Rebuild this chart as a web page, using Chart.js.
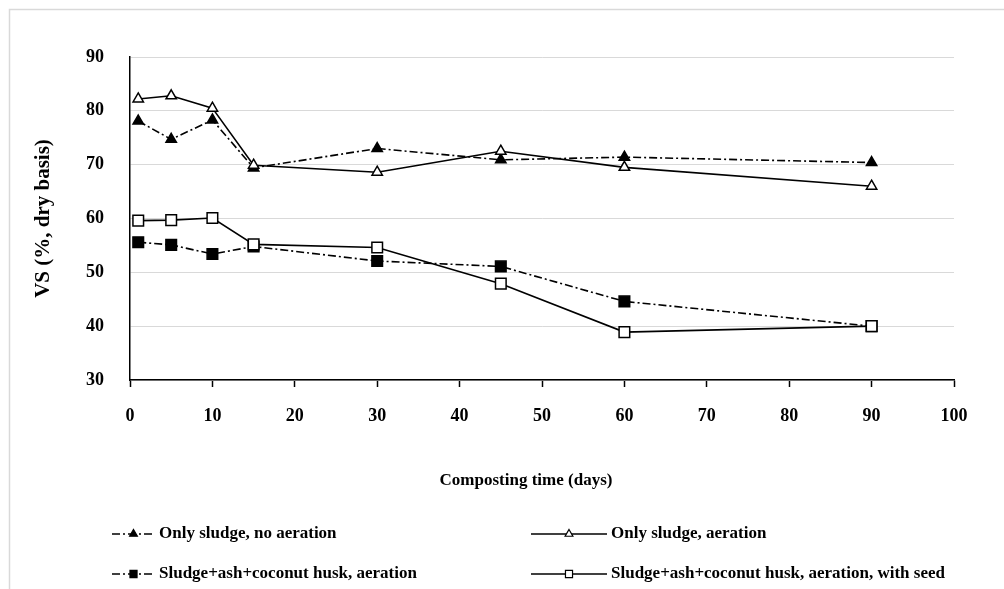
<!DOCTYPE html>
<html>
<head>
<meta charset="utf-8">
<title>VS during composting</title>
<script src="https://cdn.jsdelivr.net/npm/chart.js@4/dist/chart.umd.min.js"></script>
<style>
  html, body { margin: 0; padding: 0; background: #fff; }
  canvas { display: block; }
</style>
</head>
<body>
<canvas id="vs" width="1004" height="589"></canvas>
<script>
// Composting time (days) at each sampling
const days = [1, 5, 10, 15, 30, 45, 60, 90];

// Volatile solids (%, dry basis) per treatment
const onlySludgeNoAeration = [78.1, 74.7, 78.3, 69.4, 73.0, 70.9, 71.4, 70.4];
const onlySludgeAeration = [82.2, 82.8, 80.5, 69.9, 68.6, 72.5, 69.5, 66.0];
const sludgeAshHuskAeration = [55.6, 55.1, 53.4, 54.8, 52.1, 51.1, 44.6, 40.0];
const sludgeAshHuskSeed = [59.6, 59.7, 60.1, 55.2, 54.6, 47.9, 38.9, 40.0];

const seriesNames = [
  'Only sludge, no aeration',
  'Only sludge, aeration',
  'Sludge+ash+coconut husk, aeration',
  'Sludge+ash+coconut husk, aeration, with seed'
];

const xTicks = [0, 10, 20, 30, 40, 50, 60, 70, 80, 90, 100];
const yTicks = [30, 40, 50, 60, 70, 80, 90];
const xTitle = 'Composting time (days)';
const yTitle = 'VS (%, dry basis)';

const FONT = "'Liberation Serif', 'Times New Roman', serif";
const DASH_DOT = [8, 3, 2, 3];

function points(values) {
  return days.map((d, i) => ({ x: d, y: values[i] }));
}

function series(label, values, shape, filled, dashed, order) {
  return {
    label,
    data: points(values),
    borderColor: '#000',
    borderWidth: 1.6,
    borderDash: dashed ? DASH_DOT : [],
    pointStyle: shape,
    pointRadius: shape === 'triangle' ? 6 : 7.5,
    pointBackgroundColor: filled ? '#000' : '#fff',
    pointBorderColor: '#000',
    pointBorderWidth: 1.5,
    tension: 0,
    fill: false,
    order
  };
}

const datasets = [
  series(seriesNames[0], onlySludgeNoAeration, 'triangle', true, true, 1),
  series(seriesNames[1], onlySludgeAeration, 'triangle', false, false, 0),
  series(seriesNames[2], sludgeAshHuskAeration, 'rect', true, true, 1),
  series(seriesNames[3], sludgeAshHuskSeed, 'rect', false, false, 0)
];

// Light frame around the figure
const framePlugin = {
  id: 'frame',
  beforeDraw(chart) {
    const ctx = chart.ctx;
    ctx.save();
    ctx.strokeStyle = '#d9d9d9';
    ctx.lineWidth = 1.5;
    ctx.strokeRect(9.5, 9.5, 2000, 2000);
    ctx.restore();
  }
};

// X-axis title, set slightly left of the plot centre, under the tick labels
const xTitlePlugin = {
  id: 'xTitle',
  afterDraw(chart) {
    const ctx = chart.ctx;
    ctx.save();
    ctx.fillStyle = '#000';
    ctx.font = 'bold 17px ' + FONT;
    ctx.textAlign = 'center';
    ctx.textBaseline = 'middle';
    ctx.fillText(xTitle, 526, 481);
    ctx.restore();
  }
};

// Two-column legend below the axis title
const legendSlots = [
  { x: 112, y: 534, w: 43 },
  { x: 531, y: 534, w: 76 },
  { x: 112, y: 574, w: 43 },
  { x: 531, y: 574, w: 76 }
];

const legendPlugin = {
  id: 'twoColumnLegend',
  afterDraw(chart) {
    const ctx = chart.ctx;
    ctx.save();
    chart.data.datasets.forEach((ds, i) => {
      const s = legendSlots[i];
      ctx.strokeStyle = ds.borderColor;
      ctx.lineWidth = ds.borderWidth;
      ctx.setLineDash(ds.borderDash);
      ctx.beginPath();
      ctx.moveTo(s.x, s.y);
      ctx.lineTo(s.x + s.w, s.y);
      ctx.stroke();
      ctx.setLineDash([]);
      ctx.fillStyle = ds.pointBackgroundColor;
      ctx.strokeStyle = ds.pointBorderColor;
      ctx.lineWidth = 1.2;
      Chart.helpers.drawPoint(ctx, {
        pointStyle: ds.pointStyle,
        radius: ds.pointStyle === 'triangle' ? 4.5 : 5,
        rotation: 0,
        borderWidth: 1.2
      }, s.x + s.w / 2, s.y);
      ctx.fillStyle = '#000';
      ctx.font = 'bold 17px ' + FONT;
      ctx.textBaseline = 'middle';
      ctx.textAlign = 'left';
      ctx.fillText(ds.label, s.x + s.w + 4, s.y);
    });
    ctx.restore();
  }
};

new Chart(document.getElementById('vs'), {
  type: 'line',
  data: { datasets },
  plugins: [framePlugin, xTitlePlugin, legendPlugin],
  options: {
    responsive: false,
    animation: false,
    devicePixelRatio: 1,
    layout: { padding: { left: 0, top: 57, right: 50, bottom: 90 } },
    plugins: {
      legend: { display: false },
      tooltip: { enabled: false }
    },
    scales: {
      x: {
        type: 'linear',
        min: 0,
        max: 100,
        afterBuildTicks(scale) { scale.ticks = xTicks.map(v => ({ value: v })); },
        afterFit(scale) { scale.height = 119; },
        ticks: {
          color: '#000',
          padding: 19,
          font: { family: FONT, size: 18, weight: 'bold' }
        },
        grid: {
          drawOnChartArea: false,
          drawTicks: true,
          tickLength: 7,
          tickColor: '#000',
          tickWidth: 1.5
        },
        border: { color: '#000', width: 1.5 },
        title: { display: false }
      },
      y: {
        type: 'linear',
        min: 30,
        max: 90,
        afterBuildTicks(scale) { scale.ticks = yTicks.map(v => ({ value: v })); },
        afterFit(scale) { scale.width = 130; },
        ticks: {
          color: '#000',
          padding: 26,
          font: { family: FONT, size: 18, weight: 'bold' }
        },
        grid: {
          color: '#d9d9d9',
          lineWidth: 1,
          drawTicks: false
        },
        border: { color: '#000', width: 1.5 },
        title: {
          display: true,
          text: yTitle,
          color: '#000',
          font: { family: FONT, size: 21, weight: 'bold' },
          padding: { top: 31, bottom: 0 }
        }
      }
    }
  }
});
</script>
</body>
</html>
